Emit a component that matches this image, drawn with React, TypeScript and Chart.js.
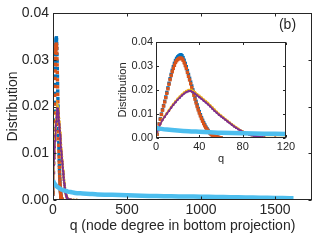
import { useEffect, useRef } from 'react';
import { Chart, registerables } from 'chart.js';
Chart.register(...registerables);

const FONT = "'Liberation Sans', Arial, Helvetica, sans-serif";
const TEXT = '#262626';

const C_BLUE = '#0072BD';
const C_ORANGE = '#D95319';
const C_YELLOW = '#EDB120';
const C_PURPLE = '#7E2F8E';
const C_LIGHT = '#4DBEEE';

// q values for the narrow distributions (blue / orange)
const qNarrow = [
  1, 2, 3, 4, 5, 6, 7, 8, 9, 10, 11, 12, 13, 14, 15, 16, 17, 18, 19, 20,
  21, 22, 23, 24, 25, 26, 27, 28, 29, 30, 31, 32, 33, 34, 35, 36, 37, 38, 39, 40,
  41, 42, 43, 44, 45, 46, 47, 48, 49, 50, 51, 52, 53, 54, 55, 56, 57, 58, 59, 60,
];
const orangeVals = [
  0.0015, 0.0035, 0.0058, 0.0078, 0.0098, 0.0116, 0.0133, 0.015, 0.0168, 0.0186,
  0.0205, 0.0224, 0.0243, 0.026, 0.0276, 0.029, 0.0303, 0.0315, 0.0322, 0.0327,
  0.033, 0.0333, 0.0333, 0.033, 0.0324, 0.0314, 0.0302, 0.0289, 0.0273, 0.0257,
  0.0242, 0.0226, 0.021, 0.0194, 0.0178, 0.0162, 0.0146, 0.0131, 0.0117, 0.0104,
  0.0092, 0.0081, 0.007, 0.006, 0.0051, 0.0043, 0.0036, 0.003, 0.0024, 0.0019,
  0.0015, 0.0012, 0.0009, 0.0007, 0.0005, 0.0004, 0.0003, 0.0002, 0.0001, 0.0001,
];
const blueVals = [
  0.0016, 0.0036, 0.0059, 0.008, 0.01, 0.0118, 0.0135, 0.0153, 0.0171, 0.019,
  0.0209, 0.0228, 0.0247, 0.0265, 0.0282, 0.0297, 0.0311, 0.0323, 0.0332, 0.0338,
  0.0342, 0.0345, 0.0347, 0.0343, 0.0335, 0.0324, 0.0311, 0.0297, 0.0281, 0.0265,
  0.0249, 0.0233, 0.0217, 0.0201, 0.0185, 0.0169, 0.0153, 0.0138, 0.0123, 0.011,
  0.0097, 0.0085, 0.0074, 0.0064, 0.0055, 0.0046, 0.0039, 0.0032, 0.0026, 0.0021,
  0.0017, 0.0013, 0.001, 0.0008, 0.0006, 0.0004, 0.0003, 0.0002, 0.0001, 0.0001,
];

// q values for the wider distributions (yellow / purple)
const qWide = [
  0, 2, 4, 6, 8, 10, 12, 14, 16, 18, 20, 22, 24, 26, 28, 30, 32, 34, 36, 38, 40,
  42, 44, 46, 48, 50, 52, 54, 56, 58, 60, 62, 64, 66, 68, 70, 72, 74, 76, 78, 80,
  82, 84, 86, 88, 90, 92, 94, 96, 98, 100, 110, 120, 140, 160,
];
const purpleVals = [
  0.001, 0.0035, 0.0058, 0.0075, 0.0088, 0.0101, 0.0113, 0.0126, 0.0138, 0.0149, 0.0159,
  0.0168, 0.0177, 0.0185, 0.0191, 0.0195, 0.0196, 0.0191, 0.0185, 0.0177, 0.017,
  0.0163, 0.0155, 0.0148, 0.014, 0.0131, 0.0122, 0.0113, 0.0105, 0.0097, 0.009,
  0.0083, 0.0076, 0.0069, 0.0062, 0.0055, 0.0048, 0.0042, 0.0036, 0.0031, 0.0026,
  0.0021, 0.0017, 0.0014, 0.0011, 0.0009, 0.0007, 0.0005, 0.0004, 0.0003, 0.0002,
  0.0001, 0.0001, 0.0, 0.0,
];
const yellowVals = [
  0.0011, 0.0036, 0.0059, 0.0077, 0.009, 0.0103, 0.0116, 0.0129, 0.0141, 0.0152, 0.0163,
  0.0172, 0.0181, 0.0189, 0.0195, 0.0199, 0.02, 0.0196, 0.019, 0.0182, 0.0175,
  0.0168, 0.016, 0.0153, 0.0145, 0.0136, 0.0127, 0.0118, 0.0109, 0.01, 0.0093,
  0.0086, 0.0078, 0.0071, 0.0064, 0.0057, 0.005, 0.0044, 0.0038, 0.0032, 0.0027,
  0.0022, 0.0018, 0.0015, 0.0012, 0.001, 0.0008, 0.0006, 0.0004, 0.0003, 0.0002,
  0.0001, 0.0001, 0.0, 0.0,
];

// broad, heavy-tailed distribution (light blue)
const qBroad = [
  0, 5, 10, 20, 30, 40, 50, 60, 80, 100, 120, 150, 200, 250, 300, 400, 500, 600,
  700, 800, 900, 1000, 1100, 1200, 1300, 1400, 1500, 1600, 1625,
];
const lightVals = [
  0.0042, 0.0038, 0.0035, 0.0031, 0.0028, 0.0026, 0.0024, 0.0022, 0.002, 0.0018,
  0.0017, 0.0015, 0.0014, 0.0013, 0.0012, 0.0011, 0.001, 0.0009, 0.00085, 0.0008,
  0.00075, 0.0007, 0.00065, 0.0006, 0.00055, 0.0005, 0.00045, 0.0004, 0.0004,
];

const mainXTicks = [0, 500, 1000, 1500];
const mainYTicks = [0, 0.01, 0.02, 0.03, 0.04];
const insetXTicks = [0, 40, 80, 120];
const insetYTicks = [0, 0.01, 0.02, 0.03, 0.04];
const panelLabel = '(b)';

const pts = (xs: number[], ys: number[]) => xs.map((x, i) => ({ x, y: ys[i] }));

function makeDatasets(lightWidth: number) {
  return [
    {
      label: 'light',
      data: pts(qBroad, lightVals),
      showLine: true,
      borderColor: C_LIGHT,
      backgroundColor: C_LIGHT,
      borderWidth: lightWidth,
      pointRadius: 0,
      tension: 0.3,
    },
    {
      label: 'purple',
      data: pts(qWide, purpleVals),
      showLine: true,
      borderColor: C_PURPLE,
      backgroundColor: C_PURPLE,
      borderWidth: 1.5,
      pointRadius: 1.2,
      pointBorderWidth: 0,
    },
    {
      label: 'yellow',
      data: pts(qWide, yellowVals),
      showLine: true,
      borderColor: C_YELLOW,
      backgroundColor: C_YELLOW,
      borderWidth: 2,
      pointRadius: 1.4,
      pointBorderWidth: 0,
    },
    {
      label: 'orange',
      data: pts(qNarrow, orangeVals),
      showLine: false,
      borderColor: C_ORANGE,
      backgroundColor: C_ORANGE,
      pointStyle: 'rect',
      pointRadius: 2.4,
      pointBorderWidth: 0,
    },
    {
      label: 'blue',
      data: pts(qNarrow, blueVals),
      showLine: false,
      borderColor: C_BLUE,
      backgroundColor: C_BLUE,
      pointStyle: 'rect',
      pointRadius: 2.4,
      pointBorderWidth: 0,
    },
  ];
}

function framePlugin(tickLen: number, label?: string) {
  return {
    id: 'frame',
    beforeDraw(chart: any) {
      const { ctx, chartArea: a } = chart;
      ctx.save();
      ctx.fillStyle = '#ffffff';
      ctx.fillRect(a.left, a.top, a.right - a.left, a.bottom - a.top);
      ctx.restore();
    },
    afterDraw(chart: any) {
      const { ctx, chartArea: a, scales } = chart;
      ctx.save();
      ctx.strokeStyle = TEXT;
      ctx.lineWidth = 1;
      const L = Math.round(a.left) + 0.5;
      const R = Math.round(a.right) - 0.5;
      const T = Math.round(a.top) + 0.5;
      const B = Math.round(a.bottom) - 0.5;
      ctx.strokeRect(L, T, R - L, B - T);
      ctx.beginPath();
      for (const t of scales.x.ticks) {
        const px = Math.round(scales.x.getPixelForValue(t.value)) + 0.5;
        ctx.moveTo(px, B);
        ctx.lineTo(px, B - tickLen);
        ctx.moveTo(px, T);
        ctx.lineTo(px, T + tickLen);
      }
      for (const t of scales.y.ticks) {
        const py = Math.round(scales.y.getPixelForValue(t.value)) + 0.5;
        ctx.moveTo(L, py);
        ctx.lineTo(L + tickLen, py);
        ctx.moveTo(R, py);
        ctx.lineTo(R - tickLen, py);
      }
      ctx.stroke();
      if (label) {
        ctx.fillStyle = TEXT;
        ctx.font = `14px ${FONT}`;
        ctx.textAlign = 'center';
        ctx.textBaseline = 'middle';
        ctx.fillText(label, 287.5, 25);
      }
      ctx.restore();
    },
  };
}

const noGrid = { display: false, drawTicks: false };

export default function App() {
  const mainRef = useRef<HTMLCanvasElement>(null);
  const insetRef = useRef<HTMLCanvasElement>(null);

  useEffect(() => {
    const main = new Chart(mainRef.current as HTMLCanvasElement, {
      type: 'scatter',
      data: { datasets: makeDatasets(4.5) as any },
      options: {
        animation: false,
        responsive: false,
        devicePixelRatio: 1,
        layout: { padding: { top: 13, right: 8, left: 0, bottom: 0 } },
        plugins: { legend: { display: false }, tooltip: { enabled: false } },
        scales: {
          x: {
            type: 'linear',
            min: 0,
            max: 1750,
            grid: noGrid,
            border: { display: false },
            afterBuildTicks: (s: any) => {
              s.ticks = mainXTicks.map((v) => ({ value: v }));
            },
            afterFit: (s: any) => {
              s.height = 40;
              s.paddingLeft = 0;
              s.paddingRight = 0;
            },
            ticks: {
              padding: 2,
              color: TEXT,
              font: { family: FONT, size: 14 },
              maxRotation: 0,
              callback: (v: any) => String(v),
            },
            title: {
              display: true,
              text: 'q (node degree in bottom projection)',
              color: TEXT,
              font: { family: FONT, size: 14 },
              padding: { top: 0, bottom: 5 },
            },
          },
          y: {
            type: 'linear',
            min: 0,
            max: 0.04,
            grid: noGrid,
            border: { display: false },
            afterBuildTicks: (s: any) => {
              s.ticks = mainYTicks.map((v) => ({ value: v }));
            },
            afterFit: (s: any) => {
              s.width = 53;
              s.paddingTop = 0;
              s.paddingBottom = 0;
            },
            ticks: {
              padding: 4,
              color: TEXT,
              font: { family: FONT, size: 14 },
              callback: (v: any) => Number(v).toFixed(2),
            },
            title: {
              display: true,
              text: 'Distribution',
              color: TEXT,
              font: { family: FONT, size: 14 },
              padding: { top: 5, bottom: 0 },
            },
          },
        },
      },
      plugins: [framePlugin(3, panelLabel)],
    });

    const inset = new Chart(insetRef.current as HTMLCanvasElement, {
      type: 'scatter',
      data: { datasets: makeDatasets(4.5) as any },
      options: {
        animation: false,
        responsive: false,
        devicePixelRatio: 1,
        layout: { padding: { top: 7, right: 16, left: 0, bottom: 0 } },
        plugins: { legend: { display: false }, tooltip: { enabled: false } },
        scales: {
          x: {
            type: 'linear',
            min: 0,
            max: 120,
            grid: noGrid,
            border: { display: false },
            afterBuildTicks: (s: any) => {
              s.ticks = insetXTicks.map((v) => ({ value: v }));
            },
            afterFit: (s: any) => {
              s.height = 32;
              s.paddingLeft = 0;
              s.paddingRight = 0;
            },
            ticks: {
              padding: 2,
              color: TEXT,
              font: { family: FONT, size: 11 },
              maxRotation: 0,
              callback: (v: any) => String(v),
            },
            title: {
              display: true,
              text: 'q',
              color: TEXT,
              font: { family: FONT, size: 11 },
              padding: { top: 0, bottom: 4.6 },
            },
          },
          y: {
            type: 'linear',
            min: 0,
            max: 0.04,
            grid: noGrid,
            border: { display: false },
            afterBuildTicks: (s: any) => {
              s.ticks = insetYTicks.map((v) => ({ value: v }));
            },
            afterFit: (s: any) => {
              s.width = 44;
              s.paddingTop = 0;
              s.paddingBottom = 0;
            },
            ticks: {
              padding: 3,
              color: TEXT,
              font: { family: FONT, size: 11 },
              callback: (v: any) => Number(v).toFixed(2),
            },
            title: {
              display: true,
              text: 'Distribution',
              color: TEXT,
              font: { family: FONT, size: 11 },
              padding: { top: 4.8, bottom: 0 },
            },
          },
        },
      },
      plugins: [framePlugin(2.5)],
    });

    return () => {
      main.destroy();
      inset.destroy();
    };
  }, []);

  return (
    <div style={{ position: 'fixed', left: 0, top: 0, width: 320, height: 240, background: '#ffffff' }}>
      <canvas ref={mainRef} width={320} height={240} style={{ position: 'absolute', left: 0, top: 0, width: 320, height: 240 }} />
      <canvas ref={insetRef} width={190} height={135} style={{ position: 'absolute', left: 112, top: 35, width: 190, height: 135 }} />
    </div>
  );
}
